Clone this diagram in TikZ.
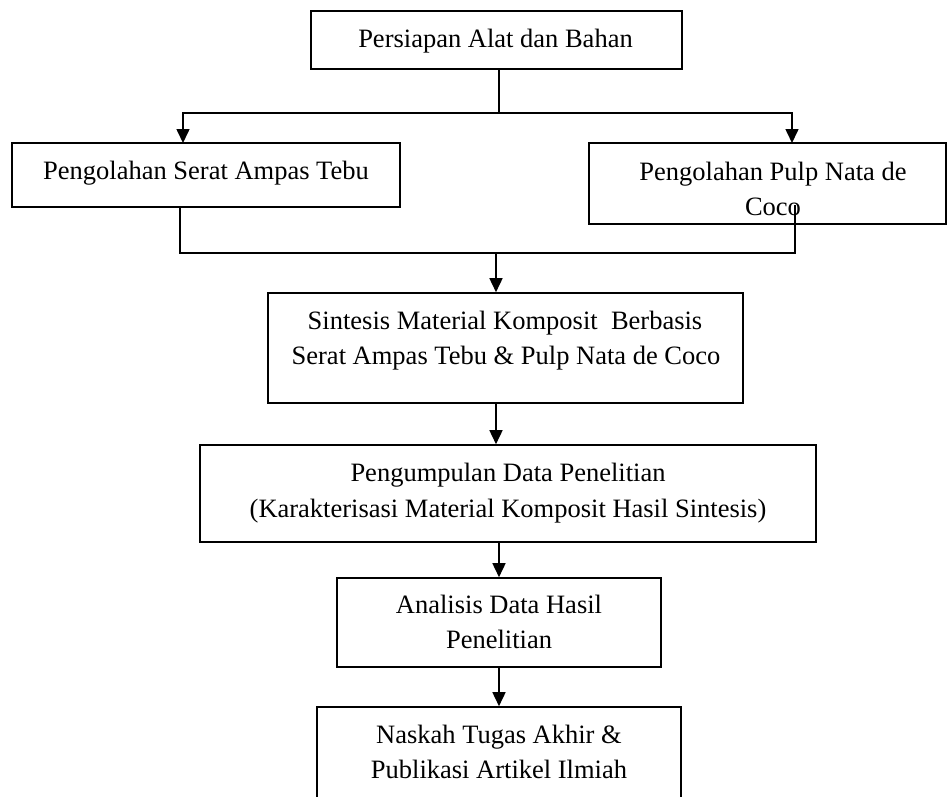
\documentclass[tikz,border=0pt]{standalone}
\usepackage{fontspec}
\setmainfont{Liberation Serif}
\usetikzlibrary{arrows.meta}
\begin{document}
\begin{tikzpicture}[x=1pt,y=-1pt,
  box/.style={draw, line width=1.6pt, rectangle, inner sep=0pt},
  lbl/.style={anchor=base, inner sep=0pt, font=\fontsize{26.5}{35}\selectfont},
  link/.style={line width=1.6pt},
  arr/.style={link, -{Triangle[width=13pt,length=14pt]}}]
\useasboundingbox (0,0) rectangle (948,796);
\clip (0,0) rectangle (948,796);
% boxes
\node[box, minimum width=371pt, minimum height=58pt] (b1) at (496.5,40) {};
\node[box, minimum width=388pt, minimum height=64pt] (b2) at (206,175) {};
\node[box, minimum width=357pt, minimum height=81pt] (b3) at (767.5,183.5) {};
\node[box, minimum width=475pt, minimum height=110pt] (b4) at (505.5,348) {};
\node[box, minimum width=616pt, minimum height=97pt] (b5) at (508,493.5) {};
\node[box, minimum width=324pt, minimum height=89pt] (b6) at (499,622.5) {};
\node[box, minimum width=364pt, minimum height=126pt] (b7) at (499,770) {};
% texts
\node[lbl] (t1) at (495.5,47) {Persiapan Alat dan Bahan};
\node[lbl] (t2) at (206,179) {Pengolahan Serat Ampas Tebu};
\node[lbl] (t3a) at (773,180) {Pengolahan Pulp Nata de};
\node[lbl] (t3b) at (773,215) {Coco};
\node[lbl] (t4a) at (505,329) {Sintesis Material Komposit~ Berbasis};
\node[lbl] (t4b) at (506,364) {Serat Ampas Tebu \& Pulp Nata de Coco};
\node[lbl] (t5a) at (508,481) {Pengumpulan Data Penelitian};
\node[lbl] (t5b) at (508,517) {(Karakterisasi Material Komposit Hasil Sintesis)};
\node[lbl] (t6a) at (499,613) {Analisis Data Hasil};
\node[lbl] (t6b) at (499,648) {Penelitian};
\node[lbl] (t7a) at (499,743) {Naskah Tugas Akhir \&};
\node[lbl] (t7b) at (499,778) {Publikasi Artikel Ilmiah};
% connectors
\coordinate (j1) at (499,113);
\coordinate (a2) at (183,143);
\coordinate (a3) at (792,143);
\draw[link] (b1.south -| j1) -- (j1);
\draw[arr] (j1) -| (a2);
\draw[arr] (j1) -| (a3);
\coordinate (s2) at (180,207);
\coordinate (s3) at (795,205);
\coordinate (m) at (496,253);
\draw[link] (s2) |- (m -| s3) -- (s3);
\draw[arr] (m) -- (m |- b4.north);
\draw[arr] (b4.south -| m) -- (b5.north -| m);
\draw[arr] (b5.south -| b6.north) -- (b6.north);
\draw[arr] (b6.south) -- (b7.north);
\end{tikzpicture}
\end{document}
